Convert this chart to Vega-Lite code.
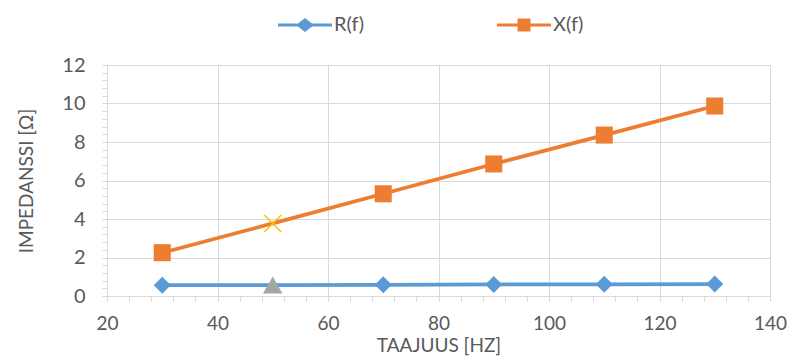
{
  "$schema": "https://vega.github.io/schema/vega-lite/v6.json",
  "autosize": "none",
  "width": 663,
  "height": 231,
  "padding": {"left": 107, "top": 65, "right": 20, "bottom": 63},
  "background": "white",
  "config": {
    "view": {"stroke": null},
    "font": "Lato"
  },
  "data": {
    "values": [
      {"f": 30, "series": "R(f)", "value": 0.56},
      {"f": 50, "series": "R(f)", "value": 0.57},
      {"f": 70, "series": "R(f)", "value": 0.58},
      {"f": 90, "series": "R(f)", "value": 0.60},
      {"f": 110, "series": "R(f)", "value": 0.61},
      {"f": 130, "series": "R(f)", "value": 0.62},
      {"f": 30, "series": "X(f)", "value": 2.25},
      {"f": 50, "series": "X(f)", "value": 3.77},
      {"f": 70, "series": "X(f)", "value": 5.31},
      {"f": 90, "series": "X(f)", "value": 6.86},
      {"f": 110, "series": "X(f)", "value": 8.36},
      {"f": 130, "series": "X(f)", "value": 9.87}
    ]
  },
  "resolve": {"scale": {"shape": "independent"}, "legend": {"shape": "independent"}},
  "encoding": {
    "x": {
      "field": "f", "type": "quantitative",
      "scale": {"domain": [20, 140], "nice": false},
      "axis": {
        "title": "TAAJUUS [HZ]",
        "values": [20,24,28,32,36,40,44,48,52,56,60,64,68,72,76,80,84,88,92,96,100,104,108,112,116,120,124,128,132,136,140],
        "labelExpr": "datum.value % 20 == 0 ? format(datum.value, 'd') : ''",
        "grid": true,
        "gridColor": "#D9D9D9",
        "gridWidth": 1,
        "gridOpacity": {"condition": {"test": "datum.value % 20 == 0", "value": 1}, "value": 0},
        "domainColor": "#D9D9D9",
        "tickColor": "#D9D9D9",
        "tickSize": 5,
        "labelPadding": 13,
        "labelFontSize": 19,
        "labelColor": "#595959",
        "labelFlush": false,
        "labelOverlap": false,
        "titleFontSize": 19,
        "titleFontWeight": "normal",
        "titleColor": "#595959",
        "titlePadding": 3
      }
    },
    "y": {
      "field": "value", "type": "quantitative",
      "scale": {"domain": [0, 12], "nice": false},
      "axis": {
        "title": "IMPEDANSSI [Ω]",
        "values": [0,0.4,0.8,1.2,1.6,2,2.4,2.8,3.2,3.6,4,4.4,4.8,5.2,5.6,6,6.4,6.8,7.2,7.6,8,8.4,8.8,9.2,9.6,10,10.4,10.8,11.2,11.6,12],
        "labelExpr": "datum.value % 2 == 0 ? format(datum.value, 'd') : ''",
        "grid": true,
        "gridColor": "#D9D9D9",
        "gridWidth": 1,
        "gridOpacity": {"condition": {"test": "datum.value % 2 == 0", "value": 1}, "value": 0},
        "domainColor": "#D9D9D9",
        "tickColor": "#D9D9D9",
        "tickSize": 5,
        "labelPadding": 17,
        "labelFontSize": 20,
        "labelColor": "#595959",
        "labelFlush": false,
        "labelOverlap": false,
        "titleFontSize": 19,
        "titleFontWeight": "normal",
        "titleColor": "#595959",
        "titlePadding": 25
      }
    }
  },
  "layer": [
    {
      "mark": {"type": "line", "strokeWidth": 3.75},
      "encoding": {
        "color": {
          "field": "series", "type": "nominal",
          "scale": {"domain": ["R(f)", "X(f)"], "range": ["#5B9BD5", "#ED7D31"]},
          "legend": {
            "title": null,
            "orient": "none",
            "direction": "horizontal",
            "legendX": 171,
            "legendY": -67,
            "symbolSize": 2916,
            "symbolStrokeWidth": 0,
            "labelFontSize": 20,
            "labelColor": "#595959",
            "labelOffset": 2,
            "columnPadding": 133,
            "encode": {
              "symbols": {
                "update": {
                  "shape": {"signal": "datum.value == 'R(f)' ? 'M-1,-0.06H-0.26L0,-0.26L0.26,-0.06H1V0.06H0.26L0,0.26L-0.26,0.06H-1Z' : 'M-1,-0.06H-0.24V-0.24H0.24V-0.06H1V0.06H0.24V0.24H-0.24V0.06H-1Z'"},
                  "fill": {"signal": "datum.value == 'R(f)' ? '#5B9BD5' : '#ED7D31'"},
                  "fillOpacity": {"value": 1},
                  "strokeWidth": {"value": 0}
                }
              }
            }
          }
        }
      }
    },
    {
      "transform": [{"filter": "datum.f != 50"}],
      "mark": {"type": "point", "filled": true, "opacity": 1, "size": 290},
      "encoding": {
        "color": {"field": "series", "type": "nominal", "legend": null},
        "shape": {
          "field": "series", "type": "nominal",
          "scale": {"domain": ["R(f)", "X(f)"], "range": ["diamond", "square"]},
          "legend": null
        }
      }
    },
    {
      "transform": [{"filter": "datum.f == 50 && datum.series == 'R(f)'"}],
      "mark": {"type": "point", "filled": true, "opacity": 1, "shape": "triangle-up", "size": 380, "color": "#A5A5A5"}
    },
    {
      "transform": [{"filter": "datum.f == 50 && datum.series == 'X(f)'"}],
      "mark": {"type": "point", "filled": false, "opacity": 1, "shape": "M-1,-1L1,1M-1,1L1,-1", "size": 289, "stroke": "#FFC000", "strokeWidth": 1.5}
    }
  ]
}
